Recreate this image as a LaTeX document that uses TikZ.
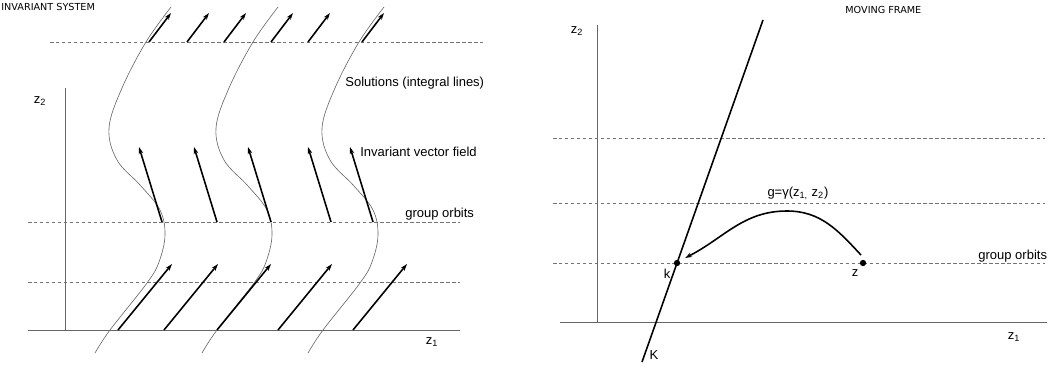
\documentclass[tikz,border=0pt]{standalone}
\usepackage{fontspec}
\setmainfont{Liberation Sans}
\newfontfamily\titlefont{DejaVu Sans}
\usetikzlibrary{arrows.meta}
\begin{document}
\begin{tikzpicture}[x=0.02cm,y=-0.02cm,
  axis/.style={draw=black!60, line width=0.55pt},
  orbit/.style={draw=black!55, line width=0.45pt, dash pattern=on 2pt off 1.4pt},
  vec/.style={draw=black, line width=0.9pt, -{Stealth[length=4pt,width=2.6pt]}},
  sol/.style={draw=black!60, line width=0.35pt},
  lbl/.style={inner sep=0pt, font=\fontsize{7.4}{9}\selectfont},
  ttl/.style={inner sep=0pt, font=\titlefont\fontsize{5.5}{7}\selectfont},
  dot/.style={circle, fill=black, inner sep=0pt, minimum size=3.6pt}
]
\useasboundingbox (0,0) rectangle (1050,368);

% ================= LEFT PANEL =================
\node[ttl, anchor=west] (t1) at (1,7) {INVARIANT SYSTEM};

% axes
\coordinate (LyTop) at (65,88);
\coordinate (LyBot) at (65,330);
\coordinate (LxL) at (28,330);
\coordinate (LxR) at (460,330);
\draw[axis] (LyTop) -- (LyBot);
\draw[axis] (LxL) -- (LxR);
\node[lbl] (lz2) at (40,101) {z\textsubscript{2}};
\node[lbl] (lz1) at (432,342) {z\textsubscript{1}};

% group orbits (dashed)
\coordinate (La1) at (50,42);  \coordinate (Lb1) at (483,42);
\coordinate (La2) at (28,222); \coordinate (Lb2) at (460,222);
\coordinate (La3) at (28,282); \coordinate (Lb3) at (460,282);
\draw[orbit] (La1) -- (Lb1);
\draw[orbit] (La2) -- (Lb2);
\draw[orbit] (La3) -- (Lb3);

% solutions (integral lines)
\foreach \dx in {-107,0,106}{
  \draw[sol, shift={(\dx,0)}] plot[smooth, tension=0.6] coordinates
    {(278,7) (253,42) (229,88) (216,128) (224,160) (248,186) (267,210) (272,235) (266,262) (254,283) (217,330) (202,353)};
}

% invariant vector field: top row
\foreach \x [count=\i] in {149,187,224,271,308,362}{
  \coordinate (ta\i) at (\x,42);
  \coordinate (tb\i) at (\x+22,13);
  \draw[vec] (ta\i) -- (tb\i);
}
% middle row
\foreach \x [count=\i] in {162,217,271,331,373}{
  \coordinate (ma\i) at (\x,222);
  \coordinate (mb\i) at (\x-23,147);
  \draw[vec] (ma\i) -- (mb\i);
}
% bottom row
\foreach \x [count=\i] in {118,164,217,278,353}{
  \coordinate (ba\i) at (\x,330);
  \coordinate (bb\i) at (\x+54,264);
  \draw[vec] (ba\i) -- (bb\i);
}

\node[lbl, anchor=west] (sol) at (345,83) {Solutions (integral lines)};
\node[lbl, anchor=west] (ivf) at (360,152) {Invariant vector field};
\node[lbl, anchor=west] (go1) at (405,214) {group orbits};

% ================= RIGHT PANEL =================
\node[ttl, anchor=west] (t2) at (845,10) {MOVING FRAME};

\coordinate (RyTop) at (597,25);
\coordinate (RyBot) at (597,322);
\coordinate (RxL) at (560,322);
\coordinate (RxR) at (1047,322);
\draw[axis] (RyTop) -- (RyBot);
\draw[axis] (RxL) -- (RxR);
\node[lbl] (rz2) at (577,31) {z\textsubscript{2}};
\node[lbl] (rz1) at (1014,337) {z\textsubscript{1}};

\coordinate (Ra1) at (553,138); \coordinate (Rb1) at (1045,138);
\coordinate (Ra2) at (553,203); \coordinate (Rb2) at (1045,203);
\coordinate (Ra3) at (553,263); \coordinate (Rb3) at (1045,263);
\draw[orbit] (Ra1) -- (Rb1);
\draw[orbit] (Ra2) -- (Rb2);
\draw[orbit] (Ra3) -- (Rb3);
\node[lbl, anchor=west] (go2) at (978,256) {group orbits};

% cross-section K
\coordinate (Ktop) at (763,20);
\coordinate (Kbot) at (642,362);
\draw[black, line width=0.9pt] (Ktop) -- (Kbot);
\node[lbl] (Klbl) at (654,355) {K};

% points
\node[dot] (k) at (677,263) {};
\node[dot] (z) at (863,263) {};
\node[lbl] (klbl) at (667,274) {k};
\node[lbl] (zlbl) at (855,273) {z};

% group action arrow
\coordinate (gs) at (861,255);
\coordinate (gp) at (787,211);
\coordinate (ge) at (685,258);
\draw[vec] (gs) to[out=133,in=0] (gp) to[out=180,in=27] (ge);
\node[lbl] (glbl) at (798,193) {g=γ(z\textsubscript{1,} z\textsubscript{2})};
\end{tikzpicture}
\end{document}
